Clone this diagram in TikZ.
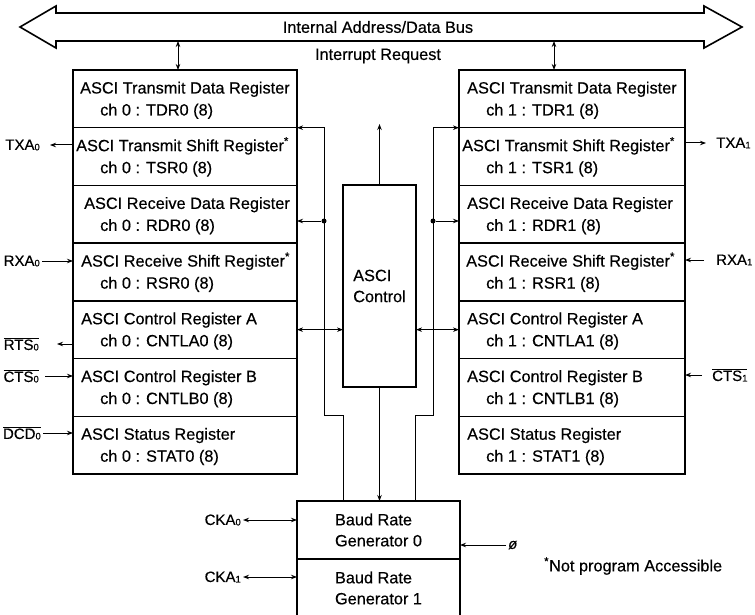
\documentclass[tikz,border=0pt]{standalone}
\usepackage{fontspec}
\setmainfont{Liberation Sans}[FakeBold=0.4]
\usetikzlibrary{arrows.meta}
\newcommand{\ovl}[1]{$\overline{\mbox{#1}}$}
\newcommand{\sbs}[1]{\raisebox{-0.5pt}{\fontsize{9.5}{9.5}\selectfont #1}}
\begin{document}
\begin{tikzpicture}[x=1pt,y=-1pt,
  every node/.style={font=\fontsize{16.3}{21}\selectfont},
  reg/.style={draw,line width=1.4pt,anchor=north west,minimum height=57.7pt,inner sep=0pt,outer sep=0pt},
  regL/.style={reg,minimum width=224pt},
  regR/.style={reg,minimum width=226pt},
  txt/.style={anchor=base west,inner sep=0pt},
  sig/.style={inner sep=0pt,font=\fontsize{15}{18}\selectfont},
  box/.style={draw,line width=1.4pt,inner sep=0pt,outer sep=0pt,align=left},
  conn/.style={line width=1pt},
  arr/.style={conn,-{Stealth[length=6pt,width=4.5pt]}},
  darr/.style={conn,{Stealth[length=6pt,width=4.5pt]}-{Stealth[length=6pt,width=4.5pt]}},
  dot/.style={circle,fill,inner sep=0pt,minimum size=5pt}
]
\clip (0,0) rectangle (755,615);
\fill[white] (0,0) rectangle (755,615);
% bus
\draw[line width=1.6pt,line join=miter] (20,27) -- (56,6) -- (56,13) -- (704,13) -- (704,6) -- (742,27)
  -- (704,48) -- (704,41) -- (56,41) -- (56,48) -- cycle;
\node (busl) at (378,27) {Internal Address/Data Bus};
\node (irq) at (378,56) {Interrupt Request};
\coordinate (bL) at (178,41);
\coordinate (bR) at (554,41);
% left register column
\node[regL] (L1) at (73,70) {};
\node[regL] (L2) at (73,127.7) {};
\node[regL] (L3) at (73,185.4) {};
\node[regL] (L4) at (73,243.1) {};
\node[regL] (L5) at (73,300.8) {};
\node[regL] (L6) at (73,358.5) {};
\node[regL] (L7) at (73,416.2) {};
\node[txt] (L1a) at (80,93.5) {ASCI Transmit Data Register};
\node[txt] (L1b) at (100,115.5) {ch 0 : TDR0 (8)};
\node[txt] (L2a) at (76,151.2) {ASCI Transmit Shift Register\textsuperscript{*}};
\node[txt] (L2b) at (100,173.2) {ch 0 : TSR0 (8)};
\node[txt] (L3a) at (84,208.9) {ASCI Receive Data Register};
\node[txt] (L3b) at (100,230.9) {ch 0 : RDR0 (8)};
\node[txt] (L4a) at (81,266.6) {ASCI Receive Shift Register\textsuperscript{*}};
\node[txt] (L4b) at (100,288.6) {ch 0 : RSR0 (8)};
\node[txt] (L5a) at (81,324.3) {ASCI Control Register A};
\node[txt] (L5b) at (100,346.3) {ch 0 : CNTLA0 (8)};
\node[txt] (L6a) at (81,382) {ASCI Control Register B};
\node[txt] (L6b) at (100,404) {ch 0 : CNTLB0 (8)};
\node[txt] (L7a) at (81,439.7) {ASCI Status Register};
\node[txt] (L7b) at (100,461.7) {ch 0 : STAT0 (8)};
% right register column
\node[regR] (R1) at (459,70) {};
\node[regR] (R2) at (459,127.7) {};
\node[regR] (R3) at (459,185.4) {};
\node[regR] (R4) at (459,243.1) {};
\node[regR] (R5) at (459,300.8) {};
\node[regR] (R6) at (459,358.5) {};
\node[regR] (R7) at (459,416.2) {};
\node[txt] (R1a) at (467,93.5) {ASCI Transmit Data Register};
\node[txt] (R1b) at (486,115.5) {ch 1 : TDR1 (8)};
\node[txt] (R2a) at (462,151.2) {ASCI Transmit Shift Register\textsuperscript{*}};
\node[txt] (R2b) at (486,173.2) {ch 1 : TSR1 (8)};
\node[txt] (R3a) at (467,208.9) {ASCI Receive Data Register};
\node[txt] (R3b) at (486,230.9) {ch 1 : RDR1 (8)};
\node[txt] (R4a) at (466,266.6) {ASCI Receive Shift Register\textsuperscript{*}};
\node[txt] (R4b) at (486,288.6) {ch 1 : RSR1 (8)};
\node[txt] (R5a) at (467,324.3) {ASCI Control Register A};
\node[txt] (R5b) at (486,346.3) {ch 1 : CNTLA1 (8)};
\node[txt] (R6a) at (467,382) {ASCI Control Register B};
\node[txt] (R6b) at (486,404) {ch 1 : CNTLB1 (8)};
\node[txt] (R7a) at (467,439.7) {ASCI Status Register};
\node[txt] (R7b) at (486,461.7) {ch 1 : STAT1 (8)};
% control and baud rate
\node[box,minimum width=73pt,minimum height=202pt] (ctrl) at (379.5,286) {ASCI\\Control};
\node[box,minimum width=163pt,minimum height=58pt] (B1) at (378.5,530) {Baud Rate\\Generator 0};
\node[box,minimum width=163pt,minimum height=58pt] (B2) at (378.5,588) {Baud Rate\\Generator 1};
% bus connections
\draw[darr] (bL) -- (bL |- L1.north);
\draw[darr] (bR) -- (bR |- R1.north);
% left loop
\coordinate (lv1) at (324,127.7);
\coordinate (lv2) at (324,415);
\coordinate (lv3) at (343,415);
\draw[arr] (lv3 |- B1.north) -- (lv3) -- (lv2) -- (lv1) -- (lv1 -| L1.east);
\node[dot] (ldot) at (324,221) {};
\draw[arr] (ldot) -- (ldot -| L3.east);
% right loop
\coordinate (rv1) at (433,127.7);
\coordinate (rv2) at (433,415);
\coordinate (rv3) at (415,415);
\draw[arr] (rv3 |- B1.north) -- (rv3) -- (rv2) -- (rv1) -- (rv1 -| R1.west);
\node[dot] (rdot) at (433,221) {};
\draw[arr] (rdot) -- (rdot -| R3.west);
% control links
\draw[darr] (L5.east) -- (L5.east -| ctrl.west);
\draw[darr] (ctrl.east |- R5.west) -- (R5.west);
\coordinate (ctop) at (379.5,124);
\draw[arr] (ctrl.north) -- (ctop);
\draw[arr] (ctrl.south) -- (ctrl.south |- B1.north);
% left signals
\node[sig,anchor=east] (txa0) at (40,145) {TXA\sbs{0}};
\draw[arr] (L2.west |- txa0.east) -- ([xshift=10pt]txa0.east);
\node[sig,anchor=east] (rxa0) at (40,261) {RXA\sbs{0}};
\draw[arr] ([xshift=2pt]rxa0.east) -- (L4.west |- rxa0.east);
\node[sig,anchor=east] (rts0) at (39,344) {\ovl{RTS\sbs{0}}};
\draw[arr] (L5.west |- rts0.east) -- ([xshift=18pt]rts0.east);
\node[sig,anchor=east] (cts0) at (39,376) {\ovl{CTS\sbs{0}}};
\draw[arr] ([xshift=6pt]cts0.east) -- (L6.west |- cts0.east);
\node[sig,anchor=east] (dcd0) at (41,433) {\ovl{DCD\sbs{0}}};
\draw[arr] ([xshift=2pt]dcd0.east) -- (L7.west |- dcd0.east);
% right signals
\node[sig,anchor=west] (txa1) at (716,143) {TXA\sbs{1}};
\draw[arr] (R2.east |- txa1.west) -- ([xshift=-10pt]txa1.west);
\node[sig,anchor=west] (rxa1) at (716,260) {RXA\sbs{1}};
\draw[arr] ([xshift=-12pt]rxa1.west) -- (R4.east |- rxa1.west);
\node[sig,anchor=west] (cts1) at (712,375) {\ovl{CTS\sbs{1}}};
\draw[arr] ([xshift=-10pt]cts1.west) -- (R6.east |- cts1.west);
% baud rate signals
\node[sig,anchor=east] (cka0) at (241,520) {CKA\sbs{0}};
\draw[darr] ([xshift=2pt]cka0.east) -- (B1.west |- cka0.east);
\node[sig,anchor=east] (cka1) at (241,577) {CKA\sbs{1}};
\draw[darr] ([xshift=2pt]cka1.east) -- (B2.west |- cka1.east);
\node[sig,anchor=west] (phi) at (508,545) {\itshape ø};
\draw[arr] ([xshift=-2pt]phi.west) -- (B1.east |- phi.west);
\node[inner sep=0pt,anchor=west] (note) at (544,566) {\textsuperscript{*}Not program Accessible};
\end{tikzpicture}
\end{document}
